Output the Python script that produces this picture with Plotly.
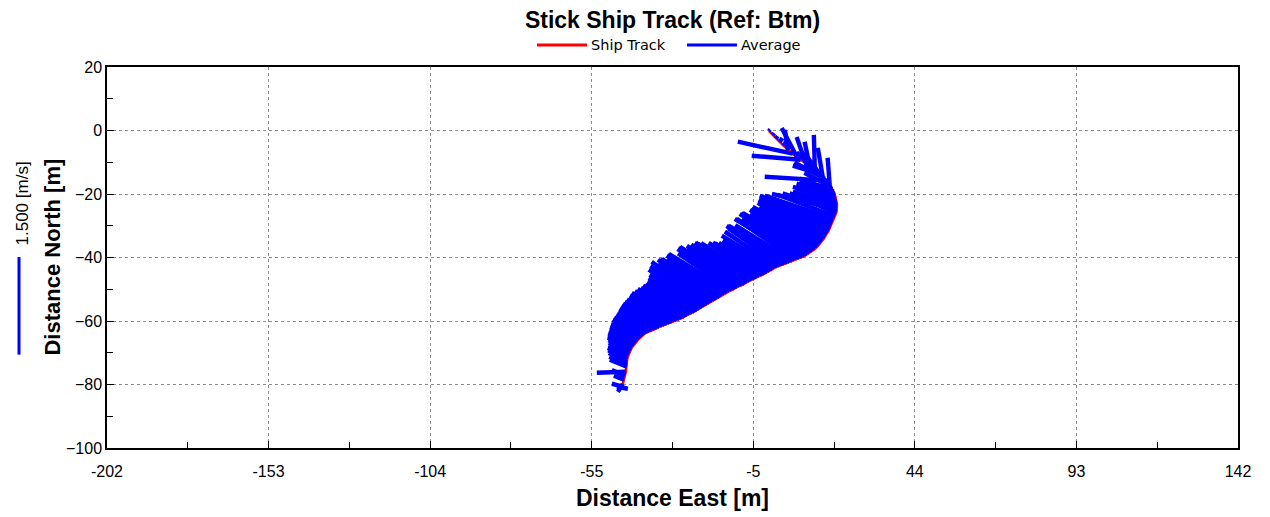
import plotly.graph_objects as go

# Ship track (Distance East / North, metres), one value per ensemble
track_east = [-0.7, 0.5, 1.4, 2.6, 3.8, 5.1, 6.6, 7.8, 9.0, 10.5,
              11.7, 13.3, 13.9, 14.5, 15.1, 15.7, 16.3, 16.9, 17.4, 17.8,
              18.3, 18.7, 19.0, 19.3, 19.5, 19.7, 19.9, 20.0, 20.0, 20.0,
              19.9, 19.7, 19.4, 19.0, 18.7, 18.4, 18.1, 17.8, 17.4, 16.9,
              16.5, 16.0, 15.4, 14.8, 14.1, 13.3, 12.5, 11.7, 11.0, 10.2,
              9.5, 8.7, 8.0, 7.2, 6.5, 5.7, 4.9, 4.1, 3.4, 2.6,
              1.9, 1.1, 0.4, -0.4, -1.2, -1.9, -2.7, -3.5, -4.3, -5.0,
              -5.8, -6.5, -7.3, -8.0, -8.8, -9.5, -10.3, -11.1, -11.9, -12.6,
              -13.4, -14.1, -14.9, -15.6, -16.4, -17.1, -17.9, -18.7, -19.5, -20.2,
              -21.0, -21.7, -22.5, -23.2, -24.0, -24.7, -25.5, -26.3, -27.1, -27.8,
              -28.6, -29.3, -30.1, -30.8, -31.6, -32.3, -33.1, -33.9, -34.7, -35.4,
              -36.2, -36.9, -37.5, -38.1, -38.7, -39.3, -39.9, -40.5, -41.0, -41.5,
              -42.0, -42.4, -42.7, -43.0, -43.3, -43.6, -43.8, -43.9, -43.9, -43.9,
              -44.2, -44.5, -44.8, -45.1, -46.0, -46.9]
track_north = [-0.1, -1.4, -2.6, -3.6, -4.8, -6.1, -7.3, -8.3, -9.2, -10.2,
               -11.1, -12.4, -13.0, -13.6, -14.1, -14.6, -15.2, -15.8, -16.5, -17.1,
               -17.8, -18.4, -19.2, -19.9, -20.7, -21.5, -22.3, -23.1, -23.9, -24.7,
               -25.5, -26.2, -27.0, -27.8, -28.6, -29.4, -30.2, -31.0, -31.8, -32.5,
               -33.3, -34.1, -34.9, -35.7, -36.5, -37.3, -37.9, -38.5, -39.0, -39.5,
               -39.8, -40.1, -40.4, -40.7, -41.1, -41.4, -41.7, -42.0, -42.3, -42.6,
               -42.9, -43.2, -43.7, -44.2, -44.7, -45.1, -45.5, -45.8, -46.3, -46.7,
               -47.0, -47.3, -47.8, -48.3, -48.6, -48.9, -49.4, -49.9, -50.2, -50.5,
               -51.0, -51.4, -51.9, -52.4, -52.9, -53.3, -53.8, -54.3, -54.8, -55.2,
               -55.7, -56.2, -56.7, -57.1, -57.4, -57.7, -58.2, -58.7, -59.0, -59.3,
               -59.6, -59.9, -60.3, -60.6, -60.9, -61.2, -61.5, -61.8, -62.2, -62.5,
               -62.8, -63.1, -63.4, -63.7, -64.2, -64.7, -65.3, -65.9, -66.6, -67.2,
               -67.8, -68.4, -69.1, -69.7, -70.5, -71.3, -72.1, -72.9, -73.7, -74.4,
               -76.0, -77.3, -78.5, -79.8, -80.4, -80.7]

# Depth-averaged current per ensemble (m/s), east and north components
avg_east = [0.020, 0.020, 0.030, 0.040, 0.050, -0.045, -0.816, -0.223, -0.727, -0.134,
            -0.074, -0.015, -0.30, -0.386, -0.25, -0.074, -0.45, -0.920, -0.35, -0.030,
            -0.40, -0.490, -0.50, -0.564, -0.55, -0.638, -0.60, -0.653, -0.70, -0.964,
            -0.80, -0.638, -0.85, -1.024, -1.00, -1.068, -1.03, -1.009, -0.95, -1.009,
            -0.99, -0.979, -0.93, -0.994, -0.98, -0.964, -0.92, -0.994, -0.98, -0.964,
            -0.90, -0.964, -0.91, -0.861, -0.85, -0.905, -0.88, -0.861, -0.80, -0.772,
            -0.78, -0.786, -0.74, -0.757, -0.78, -0.772, -0.72, -0.757, -0.83, -0.890,
            -0.80, -0.801, -0.83, -0.861, -0.82, -0.890, -0.87, -0.846, -0.80, -0.905,
            -0.88, -0.861, -0.82, -0.861, -0.85, -0.846, -0.80, -0.861, -0.84, -0.831,
            -0.78, -0.757, -0.73, -0.712, -0.70, -0.697, -0.69, -0.697, -0.70, -0.712,
            -0.68, -0.668, -0.64, -0.638, -0.63, -0.623, -0.60, -0.579, -0.56, -0.534,
            -0.52, -0.504, -0.50, -0.490, -0.47, -0.445, -0.43, -0.415, -0.40, -0.393,
            -0.37, -0.356, -0.33, -0.312, -0.30, -0.297, -0.28, -0.267, -0.26, -0.252,
            -0.430, -0.193, -0.148, -0.074, -0.119, 0.163]
avg_north = [0.020, 0.030, 0.040, 0.060, 0.080, 0.307, 0.184, 0.445, 0.061, 0.399,
             0.369, 0.538, 0.30, 0.123, 0.35, 0.445, 0.25, 0.061, 0.30, 0.415,
             0.22, 0.123, 0.20, 0.154, 0.15, 0.184, 0.20, 0.184, 0.20, 0.230,
             0.28, 0.338, 0.33, 0.353, 0.39, 0.430, 0.46, 0.492, 0.48, 0.522,
             0.54, 0.553, 0.52, 0.568, 0.58, 0.599, 0.57, 0.614, 0.63, 0.645,
             0.58, 0.599, 0.61, 0.630, 0.55, 0.553, 0.57, 0.584, 0.56, 0.599,
             0.54, 0.492, 0.44, 0.430, 0.45, 0.476, 0.46, 0.507, 0.53, 0.553,
             0.55, 0.584, 0.58, 0.584, 0.55, 0.599, 0.61, 0.614, 0.56, 0.568,
             0.58, 0.584, 0.55, 0.584, 0.60, 0.614, 0.58, 0.630, 0.59, 0.553,
             0.50, 0.476, 0.46, 0.438, 0.43, 0.430, 0.42, 0.430, 0.41, 0.399,
             0.39, 0.384, 0.36, 0.361, 0.34, 0.323, 0.31, 0.300, 0.29, 0.276,
             0.25, 0.230, 0.22, 0.200, 0.20, 0.207, 0.20, 0.192, 0.18, 0.163,
             0.16, 0.154, 0.15, 0.138, 0.14, 0.138, 0.14, 0.138, 0.12, 0.108,
             -0.015, 0.092, 0.061, -0.123, 0.031, -0.031]

stick_scale = 20.5        # metres of plot per 1 m/s
scale_speed = 1.5         # m/s reference bar

x_tickvals = [-202, -152.86, -103.71, -54.57, -5.43, 43.71, 92.86, 142]
x_ticktext = ["-202", "-153", "-104", "-55", "-5", "44", "93", "142"]
y_tickvals = [20, 0, -20, -40, -60, -80, -100]

legend_names = ["Ship Track", "Average"]
legend_colors = ["#ff0000", "#0000ff"]

FONT = "Liberation Sans, Arial, sans-serif"

assert len(track_east) == len(track_north) == len(avg_east) == len(avg_north)

stick_x, stick_y = [], []
for e, n, u, v in zip(track_east, track_north, avg_east, avg_north):
    stick_x += [e, e + u * stick_scale, None]
    stick_y += [n, n + v * stick_scale, None]

fig = go.Figure()
fig.add_trace(go.Scatter(x=track_east, y=track_north, mode="lines", name=legend_names[0],
                         line=dict(color=legend_colors[0], width=2.5), showlegend=False))
fig.add_trace(go.Scatter(x=stick_x, y=stick_y, mode="lines", name=legend_names[1],
                         line=dict(color=legend_colors[1], width=4.4), showlegend=False))

axis_common = dict(showline=True, linecolor="black", linewidth=1.5, mirror=True,
                   showgrid=True, gridcolor="#8c8c8c", griddash="dot", gridwidth=1,
                   zeroline=False, ticks="inside", ticklen=7, tickcolor="black",
                   tickfont=dict(family=FONT, size=16, color="black"))

fig.update_xaxes(range=[-202, 142], tickmode="array", tickvals=x_tickvals, ticktext=x_ticktext,
                 ticklabelstandoff=8,
                 minor=dict(tick0=-202, dtick=24.5714, ticks="inside", ticklen=6,
                            tickcolor="black", showgrid=False),
                 **axis_common)
fig.update_yaxes(range=[-100, 20], tickmode="array", tickvals=y_tickvals,
                 minor=dict(tick0=0, dtick=10, ticks="inside", ticklen=6,
                            tickcolor="black", showgrid=False),
                 **axis_common)

fig.update_layout(
    width=1262, height=509,
    margin=dict(l=99, r=32, t=59, b=69, autoexpand=False),
    paper_bgcolor="white", plot_bgcolor="white",
    title=dict(text="<b>Stick Ship Track (Ref: Btm)</b>", x=0.5, xref="paper", y=0.9764,
               yref="container", yanchor="middle",
               font=dict(family=FONT, size=23, color="black")),
    showlegend=False,
)

# Legend (line samples + labels above the plot)
leg_y = 1.0577
leg_items = [(0.3802, 0.4244, 0.4262), (0.5128, 0.5570, 0.5588)]
for (x0, x1, xt), name, col in zip(leg_items, legend_names, legend_colors):
    fig.add_shape(type="line", xref="paper", yref="paper", x0=x0, x1=x1, y0=leg_y, y1=leg_y,
                  line=dict(color=col, width=3))
    fig.add_annotation(text=name, x=xt, xref="paper", y=leg_y, yref="paper", showarrow=False,
                       xanchor="left", yanchor="middle",
                       font=dict(family="DejaVu Sans, sans-serif", size=14.5, color="black"))

# Axis titles
fig.add_annotation(text="<b>Distance East [m]</b>", x=0.5, xref="paper", y=-0.131, yref="paper",
                   showarrow=False, yanchor="middle",
                   font=dict(family=FONT, size=23, color="black"))
fig.add_annotation(text="<b>Distance North [m]</b>", x=-0.0486, xref="paper", y=0.5, yref="paper",
                   showarrow=False, textangle=-90, xanchor="center", yanchor="middle",
                   font=dict(family=FONT, size=22, color="black"))

# Velocity scale bar
bar_bottom = -70.6
fig.add_shape(type="line", xref="paper", yref="y", x0=-0.0778, x1=-0.0778,
              y0=bar_bottom, y1=bar_bottom + scale_speed * stick_scale,
              line=dict(color="#0000ff", width=3))
fig.add_annotation(text=f"{scale_speed:.3f} [m/s]", x=-0.0743, xref="paper", y=-23.0, yref="y",
                   showarrow=False, textangle=-90, xanchor="center", yanchor="middle",
                   font=dict(family=FONT, size=17, color="black"))

fig.write_html("out.html")
